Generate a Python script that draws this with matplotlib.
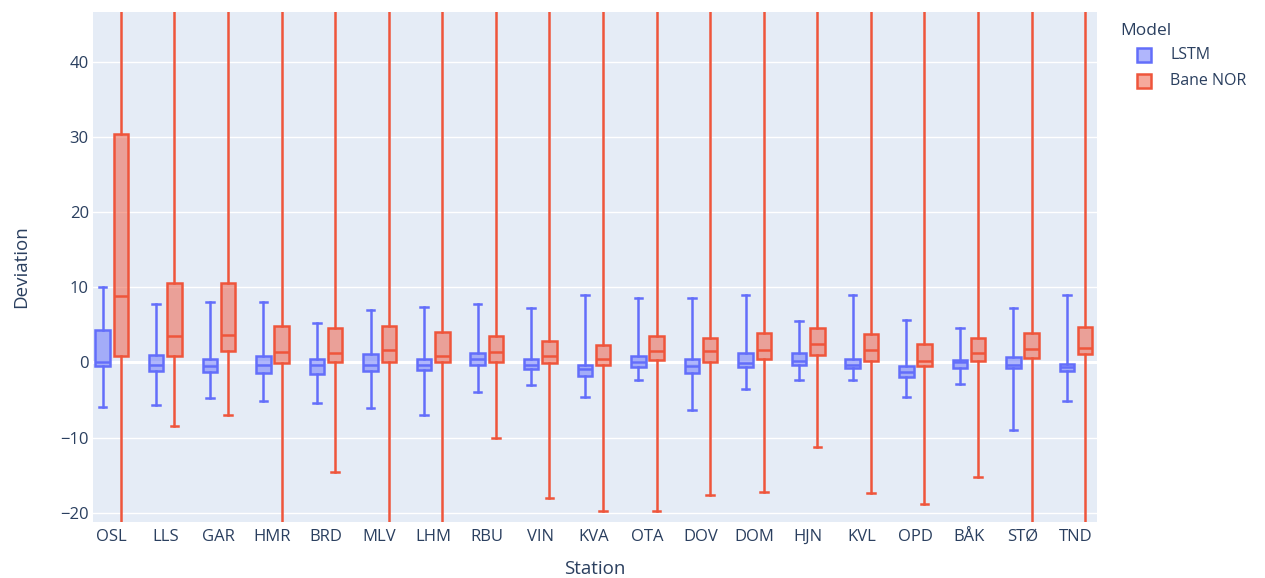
import matplotlib
matplotlib.use("Agg")
import matplotlib.pyplot as plt
from matplotlib.patches import Rectangle

plt.rcParams['font.family'] = ['Open Sans', 'DejaVu Sans']

stations = ["OSL", "LLS", "GAR", "HMR", "BRD", "MLV", "LHM", "RBU", "VIN", "KVA",
            "OTA", "DOV", "DOM", "HJN", "KVL", "OPD", "BÅK", "STØ", "TND"]

# LSTM box statistics
lstm_q1 = [-0.5, -1.1, -1.3, -1.4, -1.6, -1.2, -1.0, -0.4, -0.9, -1.8,
           -0.6, -1.4, -0.6, -0.4, -0.8, -2.0, -0.8, -0.7, -1.2]
lstm_med = [0.1, -0.3, -0.5, -0.3, -0.4, -0.4, -0.3, 0.4, -0.3, -0.9,
            0.1, -0.5, -0.1, 0.2, -0.3, -1.3, 0.0, -0.3, -0.6]
lstm_q3 = [4.3, 1.0, 0.5, 0.9, 0.5, 1.1, 0.4, 1.2, 0.4, -0.3,
           0.8, 0.4, 1.2, 1.3, 0.4, -0.5, 0.3, 0.7, -0.2]
lstm_lo = [-6.0, -5.7, -4.7, -5.1, -5.4, -6.1, -7.0, -4.0, -3.0, -4.6,
           -2.3, -6.3, -3.5, -2.3, -2.3, -4.6, -2.9, -9.0, -5.1]
lstm_hi = [10.0, 7.8, 8.0, 8.0, 5.2, 7.0, 7.4, 7.7, 7.2, 8.9,
           8.5, 8.6, 8.9, 5.5, 8.9, 5.6, 4.6, 7.2, 9.0]

# Bane NOR box statistics (whiskers reaching beyond the visible range use large values)
bane_q1 = [0.9, 0.8, 1.5, -0.1, 0.0, 0.0, 0.0, 0.0, -0.1, -0.4,
           0.3, 0.1, 0.4, 1.0, 0.2, -0.5, 0.2, 0.6, 1.1]
bane_med = [8.8, 3.5, 3.6, 1.4, 1.3, 1.6, 0.8, 1.4, 0.8, 0.5,
            1.5, 1.5, 1.6, 2.4, 1.6, 0.2, 1.2, 1.8, 1.9]
bane_q3 = [30.4, 10.5, 10.5, 4.8, 4.6, 4.8, 4.0, 3.5, 2.8, 2.3,
           3.5, 3.2, 3.9, 4.5, 3.8, 2.4, 3.2, 3.9, 4.7]
bane_lo = [-60, -8.5, -7.0, -60, -14.6, -60, -60, -10.1, -18.1, -19.8,
           -19.8, -17.6, -17.2, -11.3, -17.4, -18.9, -15.2, -60, -60]
bane_hi = [120, 120, 120, 120, 120, 120, 120, 120, 120, 120,
           120, 120, 120, 120, 120, 120, 120, 120, 120]

series = ["LSTM", "Bane NOR"]
colors = ["#636EFA", "#EF553B"]
text_color = "#2a3f5f"
LW = 1.8

W, H = 1265, 578
fig = plt.figure(figsize=(W / 100, H / 100), dpi=100)
ax = fig.add_axes([93 / W, (H - 521.7) / H, (1097 - 93) / W, (521.7 - 12) / H])
ax.set_facecolor("#E5ECF6")
for s in ax.spines.values():
    s.set_visible(False)

def make_stats(q1, med, q3, lo, hi):
    return [dict(med=m, q1=a, q3=b, whislo=l, whishi=h, fliers=[])
            for a, m, b, l, h in zip(q1, med, q3, lo, hi)]

data = [make_stats(lstm_q1, lstm_med, lstm_q3, lstm_lo, lstm_hi),
        make_stats(bane_q1, bane_med, bane_q3, bane_lo, bane_hi)]
offsets = [-0.17, 0.17]

for stats, col, off in zip(data, colors, offsets):
    pos = [i + off for i in range(len(stations))]
    bp = ax.bxp(stats, positions=pos, widths=0.27, capwidths=0.14, patch_artist=True,
                showfliers=False,
                boxprops=dict(facecolor=col, edgecolor=col, linewidth=LW),
                medianprops=dict(color=col, linewidth=LW),
                whiskerprops=dict(color=col, linewidth=LW),
                capprops=dict(color=col, linewidth=LW),
                manage_ticks=False, zorder=3)
    for b in bp['boxes']:
        b.set_facecolor(matplotlib.colors.to_rgba(col, 0.5))

ax.set_ylim(-21.2, 46.6)
ax.set_xlim(-0.35, 18.39)
ax.set_yticks([-20, -10, 0, 10, 20, 30, 40])
ax.set_yticklabels(["\u221220", "\u221210", "0", "10", "20", "30", "40"])
ax.set_xticks(range(len(stations)))
ax.set_xticklabels(stations)
ax.tick_params(axis='both', length=0, colors=text_color, labelsize=12)
ax.tick_params(axis='x', pad=5)
ax.tick_params(axis='y', pad=3)
ax.grid(axis='y', color='white', linewidth=1.0, zorder=0)
ax.set_axisbelow(True)
ax.axhline(0, color='white', linewidth=2.2, zorder=1)

ax.set_xlabel("Station", fontsize=13.5, color=text_color, labelpad=11)
ax.set_ylabel("Deviation", fontsize=13.5, color=text_color, labelpad=22)

# Legend drawn in figure pixel coordinates
fig.text(1120 / W, 1 - 31 / H, "Model", fontsize=12.5, color=text_color,
         ha='left', va='center')
for k, (name, col) in enumerate(zip(series, colors)):
    yc = 55 + k * 26
    fig.patches.append(Rectangle(((1137) / W, 1 - (yc + 7) / H), 14 / W, 14 / H,
                                 transform=fig.transFigure,
                                 facecolor=matplotlib.colors.to_rgba(col, 0.5),
                                 edgecolor=col, linewidth=LW))
    fig.text(1170 / W, 1 - yc / H, name, fontsize=11.5, color=text_color,
             ha='left', va='center')

fig.savefig("out.png", dpi=100, facecolor='white')
